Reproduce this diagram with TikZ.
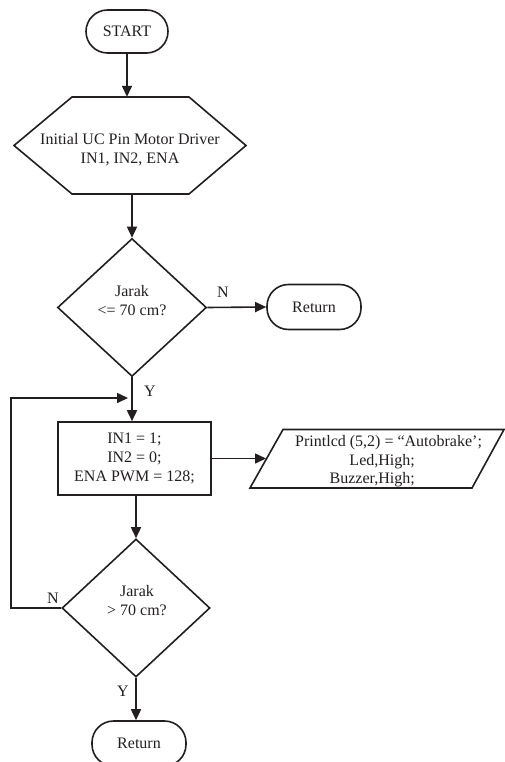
\documentclass[tikz,border=0pt]{standalone}
\usepackage{fontspec}
\setmainfont{Liberation Serif}
\usetikzlibrary{shapes.geometric,arrows.meta}
\definecolor{ink}{HTML}{231F20}
\begin{document}
\begin{tikzpicture}[x=1pt,y=-1pt,
  every node/.style={text=ink, font=\fontsize{16}{19}\selectfont},
  base/.style={draw=ink, line width=1.6pt},
  term/.style={base, rectangle, rounded corners=21.5pt, minimum width=94pt, minimum height=45pt, inner sep=0pt},
  decision/.style={base, diamond, minimum width=148pt, minimum height=138pt, inner sep=0pt},
  procbox/.style={base, rectangle, minimum width=153pt, minimum height=73pt, align=center, inner sep=0pt},
  txt/.style={align=center, inner sep=0pt},
  arr/.style={draw=ink, line width=1.6pt, -{Triangle[length=11pt,width=10pt]}},
  conn/.style={draw=ink, line width=1.6pt}
]
\useasboundingbox (0,0) rectangle (505,762);
\clip (0,0) rectangle (505,762);

% START
\node[term, minimum width=82pt, minimum height=43pt] (start) at (127,31.5) {START};

% Hexagon (preparation)
\draw[base] (14,145.5) -- (72,97) -- (189,97) -- (246,145.5) -- (189,194) -- (72,194) -- cycle;
\node[minimum width=232pt, minimum height=97pt, inner sep=0pt] (hex) at (130,145.5) {};
\node[txt] (hextxt) at (130,150) {Initial UC Pin Motor Driver\\IN1, IN2, ENA};

% Decision 1
\node[decision, minimum width=149pt] (d1) at (132,307.5) {};
\node[txt] (d1t) at (132,300.5) {Jarak\\<= 70 cm?};

% Return 1
\node[term] (ret1) at (314,307) {Return};

% Process box
\node[procbox] (box) at (134.5,458.5) {IN1 = 1;\\IN2 = 0;\\ENA PWM = 128;};

% Parallelogram (output)
\draw[base] (283,429.5) -- (504,429.5) -- (472,488) -- (250,488) -- cycle;
\coordinate (pw) at (266,458.5);
\node[inner sep=0pt, anchor=base west] (pl1) at (295,446.5) {Printlcd (5,2) = ``Autobrake';};
\node[inner sep=0pt, anchor=base east] (pl2) at (415,465) {Led,High;};
\node[inner sep=0pt, anchor=base east] (pl3) at (415,483) {Buzzer,High;};

% Decision 2
\node[decision] (d2) at (136,608) {};
\node[txt] (d2t) at (137,600.5) {Jarak\\> 70 cm?};

% Return 2
\node[term] (ret2) at (139,743.5) {Return};

% Connectors
\draw[arr] (start.south) -- (start.south |- hex.north);
\draw[arr] (d1.north |- hex.south) -- (d1.north);
\draw[arr] (d1.east) -- (ret1.west);
\node (n1) at (223,292) {N};
\draw[arr] (d1.south) -- (d1.south |- box.north);
\node (y1) at (150,391) {Y};
\coordinate (j) at (132,398);
\coordinate (lc) at (11,0);
\draw[arr, shorten >=4pt] (d2.west) -- (d2.west -| lc) |- (j);
\node (n2) at (53,598) {N};
\draw[arr] (box.east) -- (box.east -| pw);
\draw[arr] (d2.north |- box.south) -- (d2.north);
\draw[arr] (d2.south) -- (d2.south |- ret2.north);
\node (y2) at (123,691) {Y};
\end{tikzpicture}
\end{document}
